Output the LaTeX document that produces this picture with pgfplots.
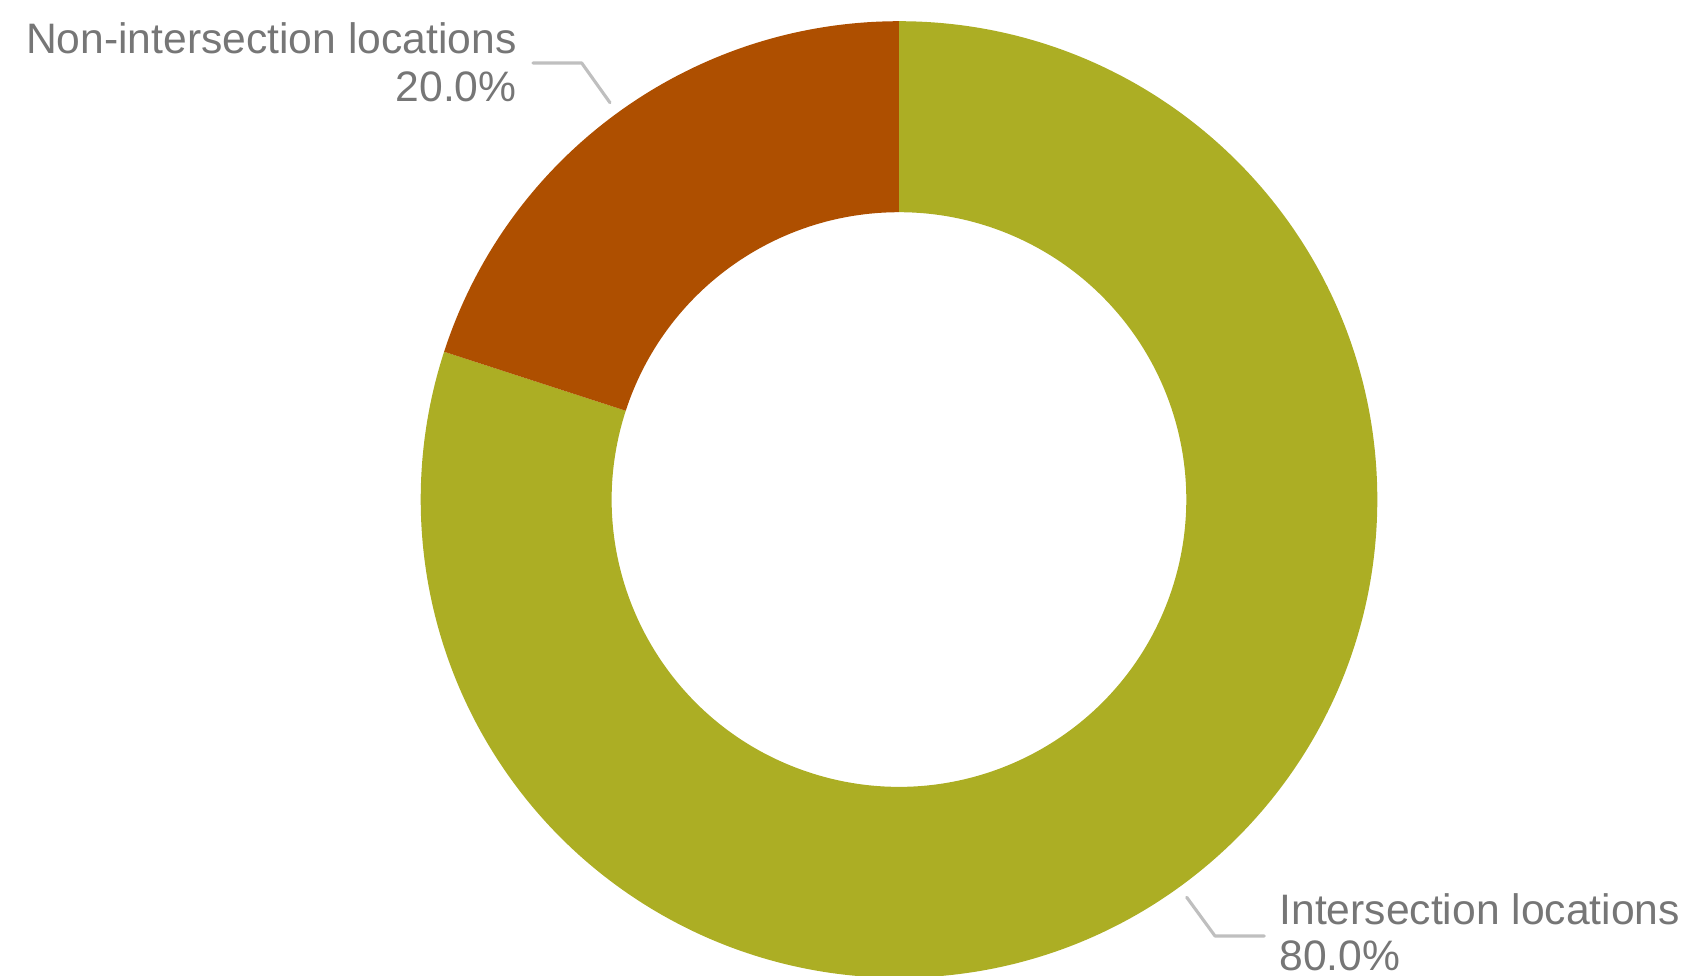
\documentclass[border=0pt]{standalone}
\usepackage{pgfplots}
\usepackage{pgfplotstable}
\pgfplotsset{compat=1.18}
\usepackage{fontspec}
\setmainfont{Liberation Sans}
\definecolor{cInter}{HTML}{ACAE24}
\definecolor{cNon}{HTML}{AE4F00}
\definecolor{cText}{HTML}{767676}
\definecolor{cLead}{HTML}{BFBFBF}

\pgfplotstableread{
label value
Intersection 80
Non-intersection 20
}\donutdata

\begin{document}
\begin{tikzpicture}
\pgfplotstablegetelem{0}{value}\of\donutdata \let\vA\pgfplotsretval
\pgfplotstablegetelem{1}{value}\of\donutdata \let\vB\pgfplotsretval
\pgfmathsetmacro{\total}{\vA+\vB}
\pgfmathsetmacro{\angA}{(\vA/\total)*360}
\pgfmathsetmacro{\angB}{(\vB/\total)*360}
\pgfmathsetmacro{\endA}{90-\angA}
\pgfmathsetmacro{\endB}{\endA-\angB}
\def\unit{0.4pt}
\pgfmathsetmacro{\Ro}{478.3*0.4}
\pgfmathsetmacro{\Ri}{287.3*0.4}
\pgfmathsetmacro{\Rd}{\Ro-\Ri}
\begin{axis}[
  x=\unit, y=\unit, scale only axis,
  xmin=0, xmax=1686, ymin=0, ymax=976,
  hide axis, clip=true,
]
% Intersection (80%)
\fill[cInter] (axis cs:899,476.5) ++(90:\Ro pt)
   arc[start angle=90, end angle=\endA, radius=\Ro pt]
   -- ++(\endA+180:\Rd pt)
   arc[start angle=\endA, end angle=90, radius=\Ri pt] -- cycle;
% Non-intersection (20%)
\fill[cNon] (axis cs:899,476.5) ++(\endA:\Ro pt)
   arc[start angle=\endA, end angle=\endB, radius=\Ro pt]
   -- ++(\endB+180:\Rd pt)
   arc[start angle=\endB, end angle=\endA, radius=\Ri pt] -- cycle;
% leader lines
\draw[cLead, line width=1.25pt, line cap=round, line join=round]
  (axis cs:533,913) -- (axis cs:581.7,913) -- (axis cs:610,873.3);
\draw[cLead, line width=1.25pt, line cap=round, line join=round]
  (axis cs:1186.7,78.7) -- (axis cs:1215,40) -- (axis cs:1264.3,40);
% labels
\begin{scope}[every node/.style={inner sep=0pt, text=cText, font=\fontsize{17.05}{20}\selectfont}]
\node[anchor=base east] at (axis cs:517,922.7) {Non-intersection locations};
\node[anchor=base east] at (axis cs:517,874.3) {20.0\%};
\node[anchor=base west] at (axis cs:1279,51) {Intersection locations};
\node[anchor=base west, text depth=0pt] at (axis cs:1279,5.5) {80.0\%};
\end{scope}
\end{axis}
\pgfresetboundingbox
\useasboundingbox (0,0) rectangle (674.4pt,390.4pt);
\end{tikzpicture}
\end{document}
